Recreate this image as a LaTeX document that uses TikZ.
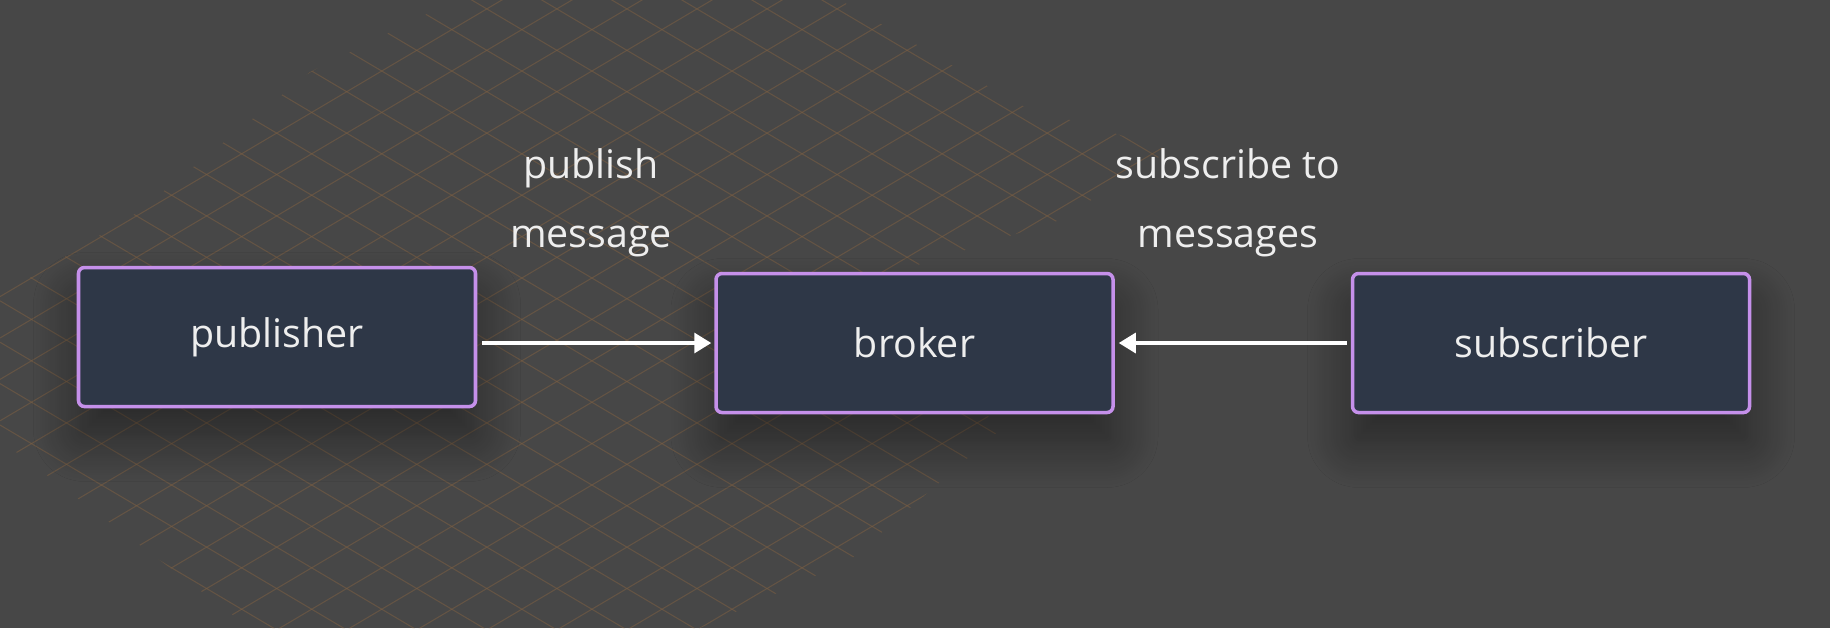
\documentclass[tikz,border=0pt]{standalone}
\usepackage{fontspec}
\setmainfont{Open Sans}
\usetikzlibrary{positioning,arrows.meta,shadows.blur}
\definecolor{bgcol}{HTML}{474747}
\definecolor{gridcol}{HTML}{7D5F42}
\definecolor{boxfill}{HTML}{2E3747}
\definecolor{boxline}{HTML}{C590EA}
\definecolor{txtcol}{HTML}{EEEEEE}
\tikzset{
	compbox/.style={rectangle,rounded corners=0.6mm,draw=boxline,line width=1pt,fill=boxfill,minimum width=3.97cm,minimum height=1.39cm,text=txtcol,font=\fontsize{11.2}{13}\selectfont,blur shadow={shadow xshift=0mm,shadow yshift=-3mm,shadow blur radius=4.5mm,shadow blur steps=20,shadow opacity=45}},
	msglabel/.style={text=txtcol,align=center,font=\fontsize{11.2}{19.6}\selectfont},
	flow/.style={draw=white,line width=0.9pt,-{Triangle[length=1.7mm,width=2mm]}},
	gridline/.style={draw=gridcol,line width=0.3pt,opacity=0.55}
}
\begin{document}
\begin{tikzpicture}
		\fill[bgcol] (0,0) rectangle (18.30,-6.28);
		\useasboundingbox (0,0) rectangle (18.30,-6.28);
		\begin{scope}
			\clip (3.10,-0.72) -- (4.55,0) -- (8.40,0) -- (10.20,-1.05) -- (11.70,-1.50) -- (10.60,-2.20) -- (8.70,-2.80) -- (10.00,-4.30) -- (8.50,-5.60) -- (7.00,-6.28) -- (2.50,-6.28) -- (0,-4.40) -- (0,-2.96) -- (1.38,-2.12) -- cycle;
			\foreach \k in {-7,...,27} \draw[gridline] (0,{-2.552-0.414*\k}) -- ++(12,7.092);
			\foreach \k in {-16,...,18} \draw[gridline] (0,{0.718-0.414*\k}) -- ++(12,-7.092);
		\end{scope}
		\node[compbox](publisher) at (2.77,-3.37) {publisher};
		\node[compbox,right=2.37cm of publisher,yshift=-0.6mm](broker) {broker};
		\node[compbox,right=2.36cm of broker](subscriber) {subscriber};
		\draw[flow] ([xshift=0.5mm]publisher.east |- broker.west) -- ([xshift=-0.3mm]broker.west);
		\draw[flow] ([xshift=-0.4mm]subscriber.west |- broker.east) -- ([xshift=0.4mm]broker.east);
		\node[msglabel](pubmsg) at (5.91,-2.03) {publish\\message};
		\node[msglabel](submsg) at (12.28,-2.03) {subscribe to\\messages};
	\end{tikzpicture}
\end{document}
